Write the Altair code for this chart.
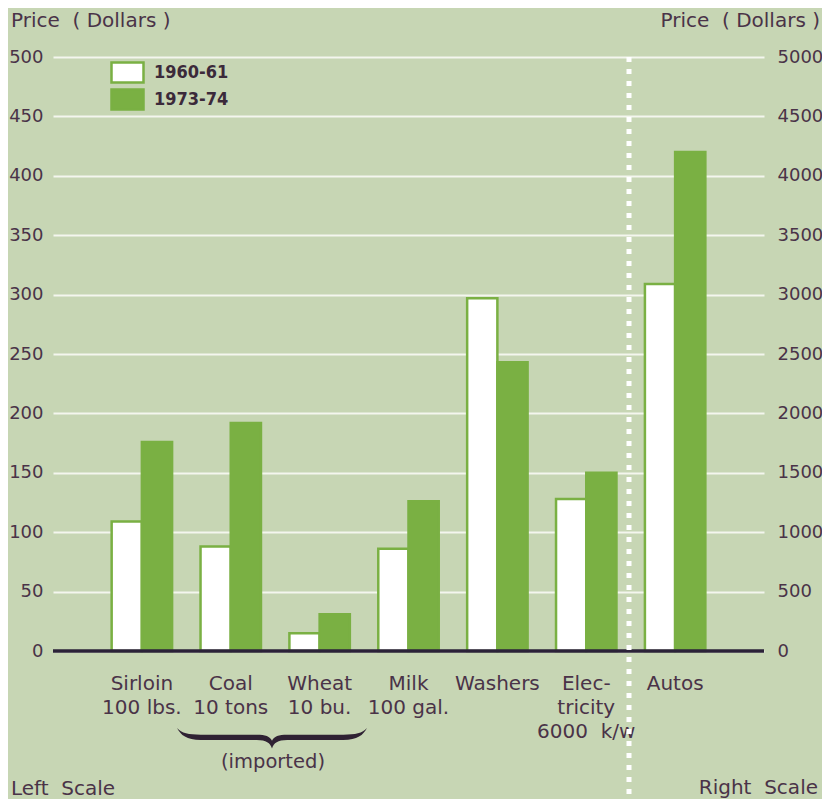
import altair as alt
import pandas as pd

NB = "\u00a0"

# ---- data ----
categories = ["Sirloin|100 lbs.", "Coal|10 tons", "Wheat|10 bu.", "Milk|100 gal.",
              "Washers", "Elec-|tricity|6000" + NB + NB + "k/w", "Autos"]
price_1960 = [109, 88, 15, 86, 297, 128, 3090]
price_1973 = [176, 192, 31, 126, 243, 150, 4200]
scale_side = ["Left", "Left", "Left", "Left", "Left", "Left", "Right"]
series = ["1960-61", "1973-74"]
left_ticks = list(range(0, 501, 50))
right_ticks = list(range(0, 5001, 500))

rows = []
for c, a, b, s in zip(categories, price_1960, price_1973, scale_side):
    rows.append({"item": c, "period": series[0], "price": a, "side": s})
    rows.append({"item": c, "period": series[1], "price": b, "side": s})
df = pd.DataFrame(rows)
left_df = df[df.side == "Left"]
right_df = df[df.side == "Right"]

# ---- styling ----
GREEN = "#7ab043"
BG = "#c7d6b4"
TEXT = "#4a3348"
FONT = "DejaVu Sans"
BOLDNARROW = "Liberation Sans Narrow, DejaVu Sans Condensed, Roboto Condensed, Liberation Sans"
W, H = 711, 594

x_enc = alt.X(
    "item:N", sort=categories,
    scale=alt.Scale(domain=categories, paddingInner=0.32, paddingOuter=0.66),
    axis=alt.Axis(title=None, labelExpr="split(datum.label, '|')", labelAngle=0,
                  ticks=False, domain=False, grid=False, labelFont=FONT,
                  labelFontSize=20, labelColor=TEXT, labelPadding=22,
                  labelLineHeight=24, labelBaseline="top"),
)
xoff = alt.XOffset("period:N", sort=series,
                   scale=alt.Scale(domain=series, paddingInner=0, paddingOuter=0))
color = alt.Color(
    "period:N", sort=series,
    scale=alt.Scale(domain=series, range=["#ffffff", GREEN]),
    legend=alt.Legend(title=None, orient="none", legendX=63, legendY=4, padding=0,
                      symbolType="M-1.6,-1H1.6V1H-1.6Z", symbolSize=400,
                      symbolStrokeColor=GREEN, symbolStrokeWidth=2.5, symbolOpacity=1,
                      labelFont=BOLDNARROW, labelFontWeight="bold", labelFontSize=18,
                      labelColor="#3b2a3a", labelOffset=15, rowPadding=-4),
)

left_bars = alt.Chart(left_df).mark_bar(stroke=GREEN, strokeWidth=2.5).encode(
    x=x_enc, xOffset=xoff, color=color,
    y=alt.Y("price:Q", scale=alt.Scale(domain=[0, 500], nice=False),
            axis=alt.Axis(title=None, orient="left", values=left_ticks, grid=True,
                          gridColor="#f4f6ee", gridWidth=2, ticks=False, domain=False,
                          format="d", labelFont=FONT, labelFontSize=18,
                          labelColor=TEXT, labelPadding=10)),
)

right_bars = alt.Chart(right_df).mark_bar(stroke=GREEN, strokeWidth=2.5).encode(
    x=x_enc, xOffset=xoff, color=color,
    y=alt.Y("price:Q", scale=alt.Scale(domain=[0, 5000], nice=False),
            axis=alt.Axis(title=None, orient="right", values=right_ticks, grid=False,
                          ticks=False, domain=False, format="d", labelFont=FONT,
                          labelFontSize=18, labelColor=TEXT, labelPadding=13)),
)

one = pd.DataFrame({"k": [0]})

baseline = alt.Chart(one).mark_rule(color="#2b2238", strokeWidth=3.5).encode(
    x=alt.value(0), x2=alt.value(W), y=alt.value(H))

divider = alt.Chart(one).mark_rule(color="white", strokeWidth=5, strokeDash=[5, 7],
                                   strokeCap="butt").encode(
    x=alt.value(576), y=alt.value(0), y2=alt.value(752))

brace_path = ("M-1,-0.105 C-0.96,-0.03 -0.9,0.02 -0.75,0.02 L-0.16,0.02 "
              "C-0.06,0.02 -0.02,0.05 0,0.11 C0.02,0.05 0.06,0.02 0.16,0.02 "
              "L0.75,0.02 C0.9,0.02 0.96,-0.03 1,-0.105 "
              "C0.95,-0.05 0.88,-0.035 0.75,-0.035 L0.16,-0.035 "
              "C0.07,-0.035 0.02,-0.02 0,0.03 C-0.02,-0.02 -0.07,-0.035 -0.16,-0.035 "
              "L-0.75,-0.035 C-0.88,-0.035 -0.95,-0.05 -1,-0.105 Z")
brace = alt.Chart(one).mark_point(shape=brace_path, size=36100, filled=True,
                                  fill="#2f2233", strokeWidth=0, opacity=1).encode(
    x=alt.value(219), y=alt.value(681))


def label(text, x, y, align, size=20):
    return alt.Chart(pd.DataFrame({"t": [text]})).mark_text(
        font=FONT, fontSize=size, color=TEXT, align=align, baseline="middle"
    ).encode(text="t:N", x=alt.value(x), y=alt.value(y))


title_text = "Price" + NB + NB + "(" + NB + "Dollars" + NB + ")"
texts = [
    label(title_text, -42, -36, "left"),
    label(title_text, 767, -36, "right"),
    label("Left" + NB + NB + "Scale", -42, 732, "left"),
    label("Right" + NB + NB + "Scale", 765, 731, "right"),
    label("(imported)", 220, 705, "center", 19.5),
]

chart = alt.layer(
    left_bars, right_bars, baseline, divider, brace, *texts
).resolve_scale(y="independent").properties(
    width=W, height=H,
    padding={"left": 45, "top": 49, "right": 58, "bottom": 148},
    autosize=alt.AutoSizeParams(type="none"),
    background=BG,
).configure_view(stroke=None)

chart.save("out.html", embed_options={"renderer": "svg", "actions": False})
